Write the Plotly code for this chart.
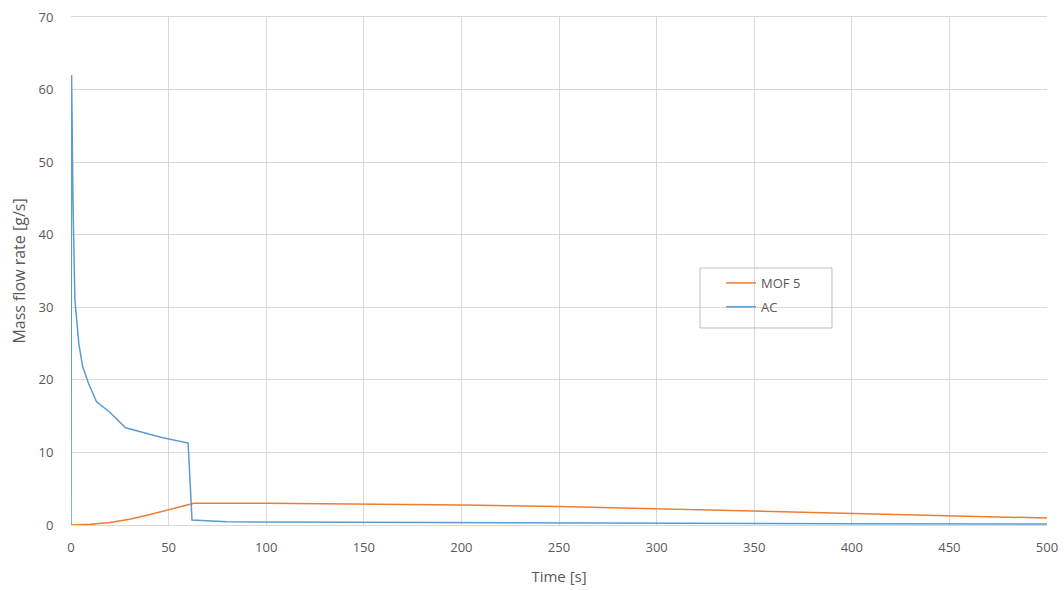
import plotly.graph_objects as go

mof_t = [0, 10, 20, 30, 40, 50, 60, 63, 100, 150, 200, 250, 300, 350, 400, 450, 500]
mof_v = [0.0, 0.1, 0.35, 0.8, 1.4, 2.1, 2.85, 3.0, 3.0, 2.9, 2.75, 2.55, 2.25, 1.95, 1.6, 1.25, 0.95]

ac_t = [0, 0.3, 1, 2, 4, 6, 9, 13, 20, 28, 46, 60, 62, 80, 100, 200, 300, 400, 500]
ac_v = [0.0, 62.0, 45.0, 31.0, 25.0, 21.8, 19.5, 17.0, 15.5, 13.4, 12.1, 11.3, 0.7, 0.45, 0.4, 0.3, 0.22, 0.18, 0.15]

x_ticks = [0, 50, 100, 150, 200, 250, 300, 350, 400, 450, 500]
y_ticks = [0, 10, 20, 30, 40, 50, 60, 70]

fig = go.Figure()
fig.add_trace(go.Scatter(x=mof_t, y=mof_v, mode="lines", name="MOF 5", legendgroup="a",
                         line=dict(color="#ED7D31", width=1.5)))
fig.add_trace(go.Scatter(x=ac_t, y=ac_v, mode="lines", name="AC", legendgroup="b",
                         line=dict(color="#5B9BD5", width=1.5)))

# legend frame
fig.add_shape(type="rect", xref="paper", yref="paper",
              x0=0.6445, x1=0.7797, y0=0.3878, y1=0.5059,
              line=dict(color="#BFBFBF", width=1), fillcolor="rgba(255,255,255,0)", layer="above")

font = dict(family="Open Sans, Liberation Sans, sans-serif", size=13, color="#595959")
fig.update_layout(
    width=1064, height=590,
    margin=dict(l=71, r=17, t=17, b=65),
    paper_bgcolor="white", plot_bgcolor="white",
    font=font,
    showlegend=True,
    legend=dict(x=0.666, y=0.506, xanchor="left", yanchor="top",
                borderwidth=0, bgcolor="rgba(255,255,255,0)",
                font=dict(size=13, color="#595959"), tracegroupgap=4,
                itemwidth=30),
    xaxis=dict(range=[0, 500], tickvals=x_ticks, showgrid=True, gridcolor="#D9D9D9",
               zeroline=False, showline=True, mirror=True, linecolor="#D9D9D9", automargin=False,
               title=dict(text="Time [s]", font=dict(size=15, color="#595959"), standoff=16),
               ticks="outside", ticklen=10, tickcolor="rgba(0,0,0,0)",
               ticklabeloverflow="allow",
               tickfont=dict(size=13, color="#595959")),
    yaxis=dict(range=[0, 70], tickvals=y_ticks, showgrid=True, gridcolor="#D9D9D9",
               zeroline=False, showline=False, automargin=False,
               title=dict(text="Mass flow rate [g/s]", font=dict(size=16, color="#595959"), standoff=8),
               ticks="outside", ticklen=14, tickcolor="rgba(0,0,0,0)",
               ticklabeloverflow="allow",
               tickfont=dict(size=13, color="#595959")),
)
fig.write_html("out.html", config={"displayModeBar": False},
               post_script="document.body.style.margin='0';document.documentElement.style.overflow='hidden';")
